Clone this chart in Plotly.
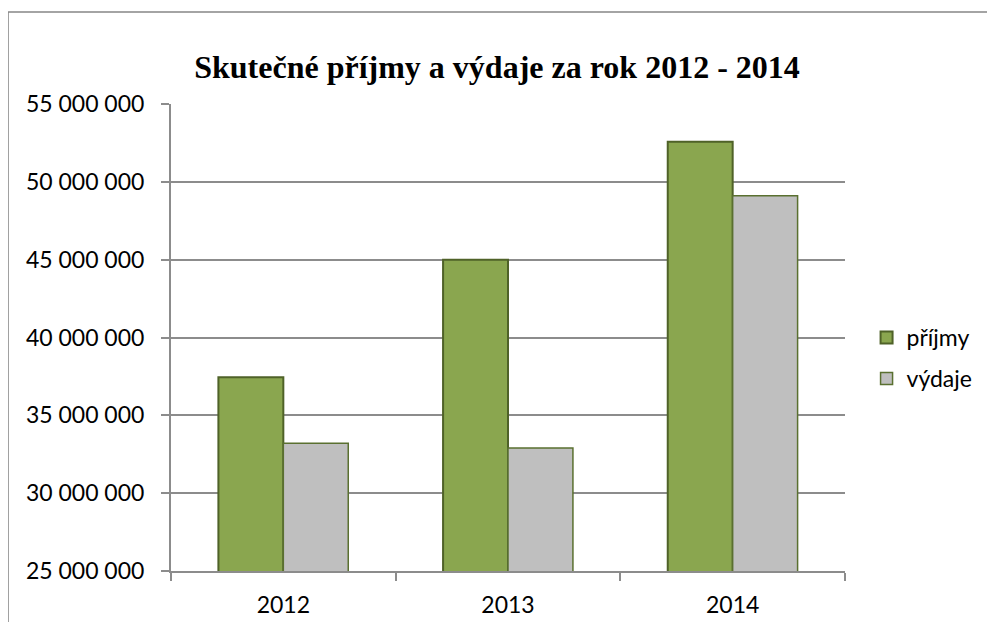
import plotly.graph_objects as go

# data
roky = ["2012", "2013", "2014"]
prijmy = [37450000, 45000000, 52570000]
vydaje = [33200000, 32900000, 49100000]
y_ticks = [25000000, 30000000, 35000000, 40000000, 45000000, 50000000, 55000000]
y_tick_labels = ["25 000 000", "30 000 000", "35 000 000", "40 000 000",
                 "45 000 000", "50 000 000", "55 000 000"]

GRID = "#8c8c8c"
BORDER = "#868686"
LABEL_FONT = dict(family="Lato", size=23, color="#000000")

fig = go.Figure()
fig.add_trace(go.Bar(
    x=roky, y=prijmy, name="příjmy", legendgroup="p",
    marker=dict(color="#8aa64f", line=dict(color="#4f6228", width=2))
))
fig.add_trace(go.Bar(
    x=roky, y=vydaje, name="výdaje", legendgroup="v",
    marker=dict(color="#bfbfbf", line=dict(color="#5a7030", width=1.5))
))

# the page has an 8px body margin all round, so the figure is kept that much
# smaller than the window (no scrollbar) and the margins allow for the offset
fig.update_layout(
    width=979, height=614,
    margin=dict(l=163, r=142, t=96, b=51, autoexpand=False),
    paper_bgcolor="white", plot_bgcolor="white",
    barmode="group", bargap=0.422, bargroupgap=0,
    title=dict(
        text="<b>Skutečné příjmy a výdaje za rok 2012 - 2014</b>",
        font=dict(family="Liberation Serif", size=32, color="#000000"),
        x=(497 - 8) / 979, xanchor="center", xref="container",
        y=1 - (67 - 8) / 614, yanchor="middle", yref="container"
    ),
    legend=dict(
        x=1.032, xanchor="left", y=0.456, yanchor="middle",
        font=LABEL_FONT, tracegroupgap=8, itemwidth=30,
        bgcolor="rgba(0,0,0,0)"
    ),
    font=LABEL_FONT,
    # outer chart border: only the top and left edges are inside the crop
    shapes=[
        dict(type="line", xref="paper", yref="paper",
             x0=-0.2418, x1=1.3, y0=1.197, y1=1.197,
             line=dict(color=BORDER, width=1.5), layer="below"),
        dict(type="line", xref="paper", yref="paper",
             x0=-0.2418, x1=-0.2418, y0=-0.3, y1=1.197,
             line=dict(color=BORDER, width=1.5), layer="below"),
    ]
)
fig.update_xaxes(
    showline=True, linecolor=GRID, linewidth=2,
    ticks="outside", ticklen=8, tickcolor=GRID, tickwidth=1.5,
    tickson="boundaries", showgrid=False, tickfont=LABEL_FONT,
    ticklabelstandoff=12, automargin=False
)
fig.update_yaxes(
    range=[25000000, 55000000], tickvals=y_ticks, ticktext=y_tick_labels,
    showline=True, linecolor=GRID, linewidth=2,
    ticks="outside", ticklen=8, tickcolor=GRID, tickwidth=1.5,
    showgrid=True, gridcolor=GRID, gridwidth=2, zeroline=False,
    ticklabelstandoff=12, tickfont=LABEL_FONT, automargin=False
)

fig.write_html("out.html")
